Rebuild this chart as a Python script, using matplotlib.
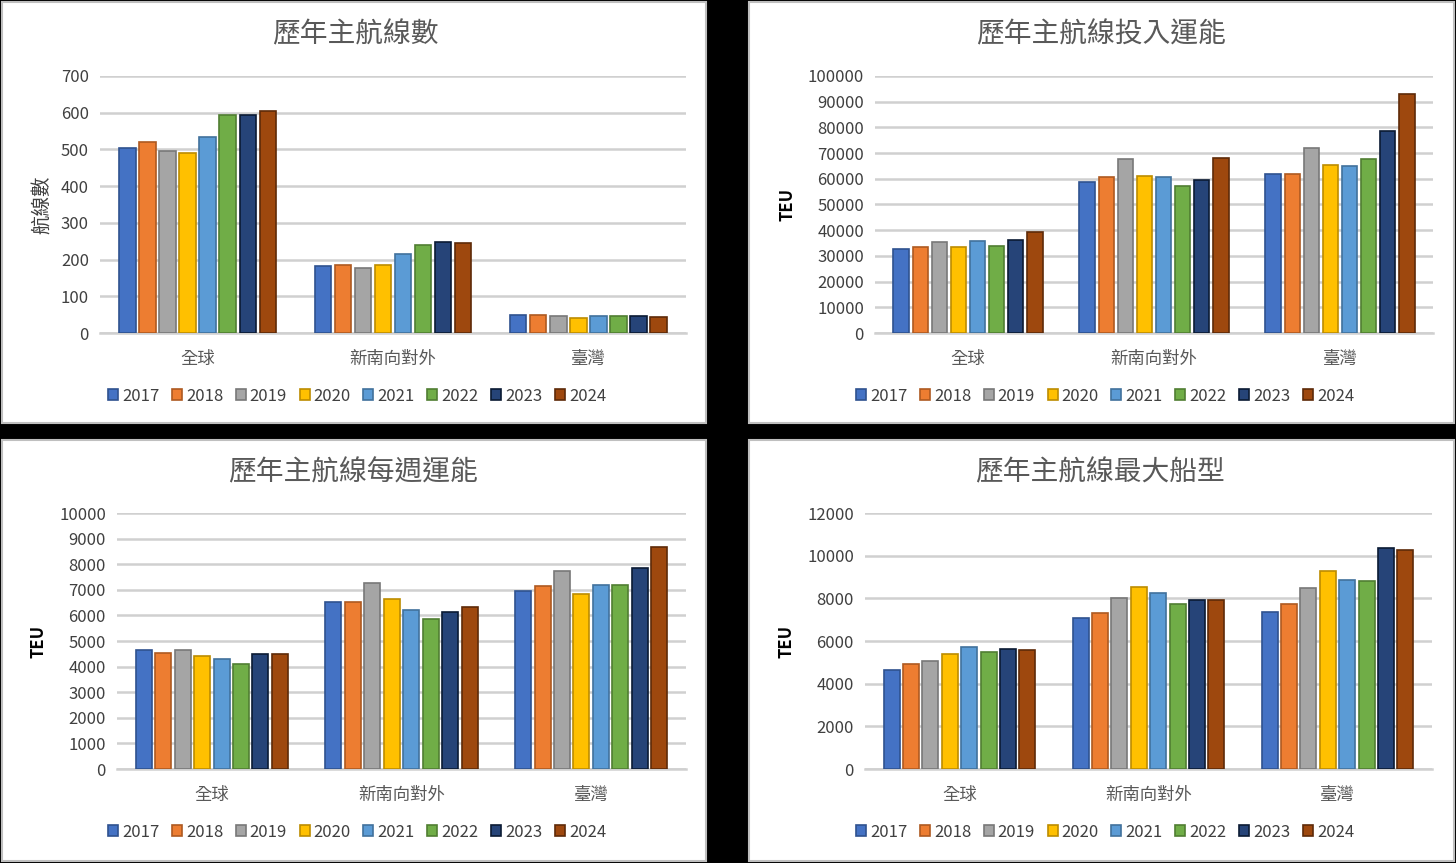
import numpy as np
import matplotlib
matplotlib.use("Agg")
from matplotlib import pyplot as plt
from matplotlib.patches import Rectangle

plt.rcParams['font.family'] = ['Liberation Sans Narrow', 'Noto Sans CJK TC', 'DejaVu Sans']

years = ['2017', '2018', '2019', '2020', '2021', '2022', '2023', '2024']
regions = ['全球', '新南向對外', '臺灣']

# 歷年主航線數
routes_global = [503, 519, 496, 491, 535, 594, 594, 606]
routes_nsp = [183, 186, 178, 186, 214, 239, 249, 244]
routes_tw = [49, 49, 45, 40, 45, 45, 45, 43]

# 歷年主航線投入運能
cap_global = [32500, 33500, 35500, 33500, 35800, 34000, 36200, 39300]
cap_nsp = [58800, 60700, 67700, 61000, 60700, 57300, 59500, 68000]
cap_tw = [61800, 61800, 72000, 65500, 65000, 67700, 78500, 93000]

# 歷年主航線每週運能
week_global = [4650, 4550, 4650, 4420, 4300, 4100, 4500, 4500]
week_nsp = [6520, 6520, 7250, 6660, 6220, 5870, 6150, 6330]
week_tw = [6960, 7150, 7730, 6820, 7180, 7180, 7870, 8680]

# 歷年主航線最大船型
ship_global = [4650, 4900, 5080, 5400, 5700, 5490, 5620, 5570]
ship_nsp = [7100, 7330, 8000, 8530, 8250, 7730, 7900, 7900]
ship_tw = [7370, 7730, 8480, 9270, 8870, 8830, 10370, 10270]

colors = ['#4472C4', '#ED7D31', '#A5A5A5', '#FFC000', '#5B9BD5', '#70AD47', '#264478', '#9E480E']
edges = ['#2F528F', '#AE5A21', '#787878', '#BC8C00', '#41719C', '#507E32', '#0B1A33', '#5E2A08']
txt = '#595959'

W, H = 1456, 863
fig = plt.figure(figsize=(W / 100, H / 100), dpi=100, facecolor='black')


def box(x0, y0, x1, y1):
    return [x0 / W, 1 - y1 / H, (x1 - x0) / W, (y1 - y0) / H]


def panel(px, plot, title, tcenter, lcenter, data, ymax, step, ylabel, ybold):
    x0, y0, x1, y1 = px
    fig.patches.append(Rectangle((x0 / W, 1 - y1 / H), (x1 - x0) / W, (y1 - y0) / H,
                                 transform=fig.transFigure, facecolor='white',
                                 edgecolor='#BFBFBF', linewidth=1.5, zorder=-10))
    ax = fig.add_axes(box(*plot))
    ax.set_facecolor('none')
    n = len(years)
    groupw = 0.82
    slot = groupw / n
    x = np.arange(len(regions))
    for i in range(n):
        vals = [d[i] for d in data]
        ax.bar(x - groupw / 2 + slot * (i + 0.5), vals, width=slot * 0.82,
               color=colors[i], edgecolor=edges[i], linewidth=1.2, label=years[i], zorder=3)
    ax.set_xlim(-0.5, len(regions) - 0.5)
    ax.set_ylim(0, ymax)
    ax.set_yticks(np.arange(0, ymax + 1, step))
    ax.yaxis.grid(True, color='#D0D0D0', linewidth=1.8, zorder=0)
    ax.set_axisbelow(True)
    for s in ['top', 'right', 'left']:
        ax.spines[s].set_visible(False)
    ax.spines['bottom'].set_color('#D0D0D0')
    ax.spines['bottom'].set_linewidth(1.8)
    ax.set_xticks(x)
    ax.set_xticklabels(regions, fontsize=12.5, color=txt)
    ax.tick_params(axis='x', length=0, pad=12)
    ax.tick_params(axis='y', length=0, pad=8, labelsize=12, labelcolor='#404040')
    if ybold:
        ax.set_ylabel(ylabel, fontsize=12, color='black', fontweight='bold', labelpad=8)
    else:
        ax.set_ylabel(ylabel, fontsize=14, color='#404040', labelpad=6)
    fig.text(tcenter[0] / W, 1 - tcenter[1] / H, title, ha='center', va='center',
             fontsize=20, color=txt)
    ax.legend(loc='center', bbox_to_anchor=(lcenter[0] / W, 1 - lcenter[1] / H),
              bbox_transform=fig.transFigure, ncol=n, frameon=False, fontsize=12,
              handlelength=0.6, handleheight=0.6, handletextpad=0.25, columnspacing=0.75,
              labelcolor='#404040')
    return ax


panel((2, 2, 706, 423), (100, 76, 686, 333), '歷年主航線數', (355, 34), (357, 396),
      [routes_global, routes_nsp, routes_tw], 700, 100, '航線數', False)
panel((749, 2, 1454, 423), (875, 76, 1433, 333), '歷年主航線投入運能', (1101, 34), (1105, 396),
      [cap_global, cap_nsp, cap_tw], 100000, 10000, 'TEU', True)
panel((2, 440, 706, 861), (117, 513, 686, 769), '歷年主航線每週運能', (353, 472), (357, 832),
      [week_global, week_nsp, week_tw], 10000, 1000, 'TEU', True)
panel((749, 440, 1454, 861), (865, 513, 1432, 769), '歷年主航線最大船型', (1100, 472), (1105, 832),
      [ship_global, ship_nsp, ship_tw], 12000, 2000, 'TEU', True)

fig.savefig('out.png', dpi=100, facecolor='black')
